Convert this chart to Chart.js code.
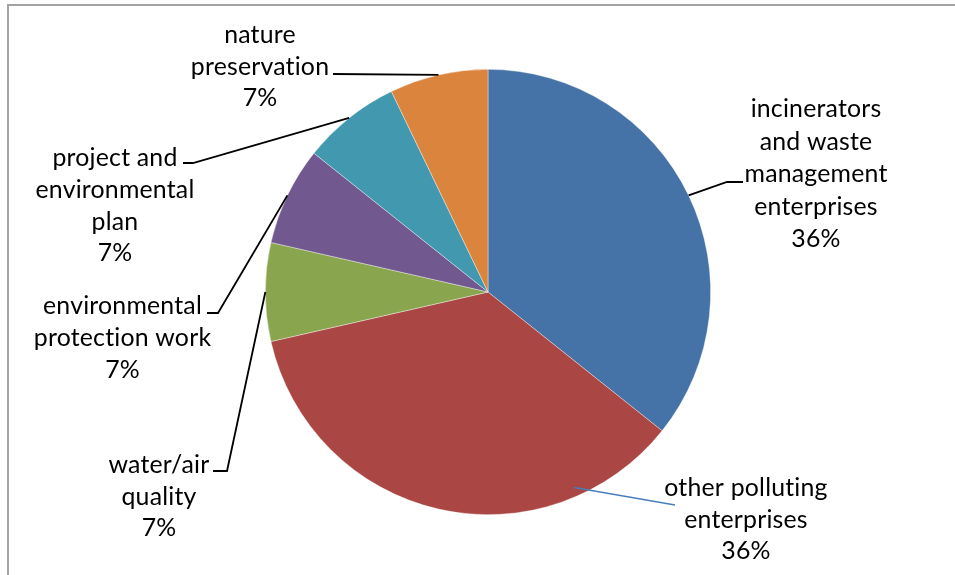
<!DOCTYPE html>
<html>
<head>
<meta charset="utf-8">
<script src="https://cdn.jsdelivr.net/npm/chart.js@4"></script>
<style>
  html, body { margin: 0; padding: 0; background: #fff; }
  #wrap { position: relative; width: 955px; height: 575px; overflow: hidden; }
  #frame { position: absolute; left: 7px; top: 4px; width: 1000px; height: 700px; border: 2px solid #a3a3a3; box-sizing: border-box; }
  canvas { position: absolute; left: 0; top: 0; }
</style>
</head>
<body>
<div id="wrap">
  <div id="frame"></div>
  <canvas id="c" width="955" height="575"></canvas>
</div>
<script>
// ---- data ----
const categories = [
  "incinerators and waste management enterprises",
  "other polluting enterprises",
  "water/air quality",
  "environmental protection work",
  "project and environmental plan",
  "nature preservation"
];
const values = [5, 5, 1, 1, 1, 1];
const percentLabels = ["36%", "36%", "7%", "7%", "7%", "7%"];
const labelLines = [
  ["incinerators", "and waste", "management", "enterprises"],
  ["other polluting", "enterprises"],
  ["water/air", "quality"],
  ["environmental", "protection work"],
  ["project and", "environmental", "plan"],
  ["nature", "preservation"]
];
const colors = ["#4572A7", "#AA4643", "#89A54E", "#71588F", "#4198AF", "#DB843D"];

// ---- layout (label placement, not data) ----
const labelLayout = [
  { cx: 816, base: 117, step: 32.5, leader: [[743, 182], [727, 182]], anchor: { f: 0.5, r: 1 } },
  { cx: 746, base: 496, step: 31.5, leader: [[675, 505]], anchor: { f: 0.215, r: 0.96 }, blue: true },
  { cx: 159, base: 473, step: 31.5, leader: [[213, 471], [227, 471]], anchor: { f: 0.5, r: 1 } },
  { cx: 122.5, base: 314, step: 32, leader: [[207, 313], [218, 313]], anchor: { f: 0.5, r: 1 } },
  { cx: 115, base: 166, step: 31.8, leader: [[183, 163], [193, 163]], anchor: { f: 0.5, r: 1 } },
  { cx: 260, base: 43, step: 31.7, leader: [[333, 74]], anchor: { f: 0.5, r: 1 } }
];

const FONT_FAMILY = "Lato, 'Open Sans', sans-serif";
const LETTER_SPACING = "0.2px"; // non-zero spacing also turns off the "ti" ligature
function fitFontSize(ctx) {
  ctx.font = "100px " + FONT_FAMILY;
  ctx.letterSpacing = "0px";
  const w = ctx.measureText("environmental").width;
  return 100 * (159 - 0.2 * 13) / w;
}

const labelPlugin = {
  id: 'pieLabels',
  afterDatasetsDraw(chart) {
    const ctx = chart.ctx;
    const meta = chart.getDatasetMeta(0);
    ctx.save();
    const fs = fitFontSize(ctx);
    meta.data.forEach((arc, i) => {
      const L = labelLayout[i];
      const a = arc.startAngle + (arc.endAngle - arc.startAngle) * L.anchor.f;
      const r = arc.outerRadius * L.anchor.r;
      const px = arc.x + Math.cos(a) * r;
      const py = arc.y + Math.sin(a) * r;
      // leader line
      ctx.beginPath();
      ctx.lineWidth = L.blue ? 1.5 : 1.8;
      ctx.strokeStyle = L.blue ? "#4a7ebb" : "#000";
      if (L.blue) {
        ctx.moveTo(px, py);
        ctx.lineTo(L.leader[0][0], L.leader[0][1]);
      } else {
        ctx.moveTo(L.leader[0][0], L.leader[0][1]);
        for (let k = 1; k < L.leader.length; k++) ctx.lineTo(L.leader[k][0], L.leader[k][1]);
        ctx.lineTo(px, py);
      }
      ctx.stroke();
      // text
      const lines = labelLines[i].concat([percentLabels[i]]);
      ctx.fillStyle = "#000";
      ctx.font = fs.toFixed(2) + "px " + FONT_FAMILY;
      ctx.letterSpacing = LETTER_SPACING;
      ctx.textAlign = "center";
      ctx.textBaseline = "alphabetic";
      lines.forEach((t, k) => ctx.fillText(t, L.cx, L.base + k * L.step));
    });
    ctx.restore();
  }
};

new Chart(document.getElementById('c'), {
  type: 'pie',
  data: {
    labels: categories,
    datasets: [{
      data: values,
      backgroundColor: colors,
      borderColor: "rgba(255,255,255,0.55)",
      borderWidth: 0.7
    }]
  },
  options: {
    responsive: false,
    animation: false,
    layout: { padding: { left: 265, right: 244, top: 69, bottom: 60 } },
    plugins: { legend: { display: false }, tooltip: { enabled: false } }
  },
  plugins: [labelPlugin]
});
</script>
</body>
</html>
